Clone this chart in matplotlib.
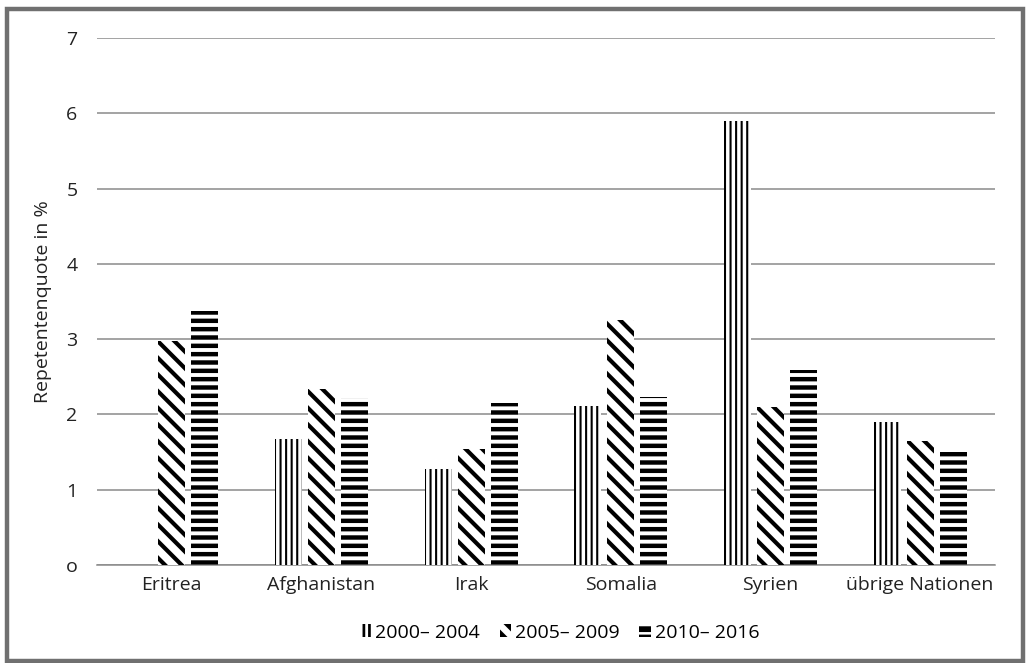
import matplotlib
matplotlib.use("Agg")
import matplotlib.pyplot as plt
import numpy as np
from matplotlib.patches import Rectangle

categories = ["Eritrea", "Afghanistan", "Irak", "Somalia", "Syrien", "übrige Nationen"]
series_names = ["2000– 2004", "2005– 2009", "2010– 2016"]
v2000 = [0.0, 1.67, 1.27, 2.11, 5.90, 1.90]
v2005 = [2.97, 2.34, 1.54, 3.25, 2.10, 1.65]
v2010 = [3.37, 2.22, 2.15, 2.23, 2.59, 1.50]
yticks = [0, 1, 2, 3, 4, 5, 6, 7]
ytick_labels = ["o", "1", "2", "3", "4", "5", "6", "7"]

plt.rcParams['font.family'] = ['Open Sans', 'DejaVu Sans']

fig = plt.figure(figsize=(10.27, 6.63), dpi=100)
ax = fig.add_axes([0.0944, 0.1478, 0.8744, 0.7949])

x = np.arange(len(categories))
w = 0.18
off = 0.22
hatches = ['|||', '\\\\', '--']
hlw = [1.5, 3.0, 3.2]
handles = []
for i, (vals, name) in enumerate(zip([v2000, v2005, v2010], series_names)):
    bars = ax.bar(x + (i - 1) * off, vals, w, facecolor='white', edgecolor='black',
                  linewidth=0, hatch=hatches[i], label=name, zorder=3)
    for b in bars:
        if hasattr(b, 'set_hatch_linewidth'):
            b.set_hatch_linewidth(hlw[i])
    handles.append(bars)

ax.set_xlim(-0.5, 5.5)
ax.set_ylim(0, 7)
ax.set_yticks(yticks)
ax.set_yticklabels(ytick_labels)
ax.set_xticks(x)
ax.set_xticklabels(categories)
ax.tick_params(axis='both', length=0, labelsize=14, colors='#222222')
ax.tick_params(axis='y', pad=14)
ax.tick_params(axis='x', pad=8)
ax.grid(axis='y', color='#8a8a8a', linewidth=1.1, zorder=0)
for s in ['top', 'right', 'left']:
    ax.spines[s].set_visible(False)
ax.spines['bottom'].set_color('#8a8a8a')
ax.spines['bottom'].set_linewidth(1.1)
ax.set_ylabel("Repetentenquote in %", fontsize=14, color='#222222', labelpad=10)

leg = fig.legend(handles=handles, labels=series_names, loc='center', bbox_to_anchor=(0.545, 0.046),
                 ncol=3, frameon=False, fontsize=14, handlelength=0.6, handleheight=0.6,
                 handletextpad=0.2, columnspacing=1.0)
for i, h in enumerate(leg.legend_handles):
    if hasattr(h, 'set_hatch_linewidth'):
        h.set_hatch_linewidth(hlw[i] * 1.3)

fig.patches.append(Rectangle((0.0068, 0.003), 0.9893, 0.984, transform=fig.transFigure,
                             fill=False, edgecolor='#707070', linewidth=3.2))

fig.savefig("out.png", dpi=100)
